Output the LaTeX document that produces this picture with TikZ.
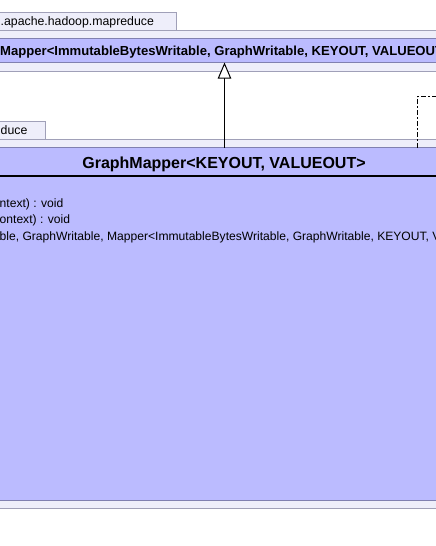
\documentclass[tikz,border=0pt]{standalone}
\usepackage{fontspec}
\setmainfont{Liberation Sans}
\usetikzlibrary{arrows.meta}
\definecolor{pkgfill}{RGB}{238,238,250}
\definecolor{pkgline}{RGB}{160,160,184}
\definecolor{clsfill}{RGB}{187,187,255}
\definecolor{clsline}{RGB}{128,128,176}
\tikzset{
  boxbase/.style={anchor=north west, inner sep=0pt, outer sep=0pt, line width=1pt},
  pkgbox/.style={boxbase, draw=pkgline, fill=pkgfill},
  clsbox/.style={boxbase, draw=clsline, fill=clsfill},
  pkgtext/.style={inner sep=0pt, anchor=base west, font=\fontsize{12.3}{14}\selectfont},
  smalltitle/.style={inner sep=0pt, anchor=base west, font=\fontsize{13.1}{15}\selectfont\bfseries},
  bigtitle/.style={inner sep=0pt, anchor=base, font=\fontsize{16}{19}\selectfont\bfseries},
  methodtext/.style={inner sep=0pt, anchor=base west, font=\fontsize{12.1}{14}\selectfont},
  inherit/.style={line width=1pt, -{Triangle[open, fill=white, length=16pt, width=13.4pt]}},
  realize/.style={line width=1pt, dash pattern=on 5pt off 2pt on 2pt off 2pt}
}
\begin{document}
\begin{tikzpicture}[x=1pt,y=-1pt]
\useasboundingbox (0,0) rectangle (436,546);
\clip (0,0) rectangle (436,546);
% package org.apache.hadoop.mapreduce (top)
\node[pkgbox, minimum width=181pt, minimum height=17.5pt] (tab1) at (-5,12.5) {};
\node[pkgbox, minimum width=455pt, minimum height=41pt] (pkg1) at (-5,30) {};
\node[pkgtext] (tab1text) at (0.5,25.5) {.apache.hadoop.mapreduce};
% class Mapper
\node[clsbox, minimum width=455pt, minimum height=24pt] (mapper) at (-5,38.5) {};
\node[smalltitle] (mappertext) at (0,55.7) {Mapper<ImmutableBytesWritable, GraphWritable, KEYOUT, VALUEOUT>};
% package (bottom)
\node[pkgbox, minimum width=50.7pt, minimum height=18.3pt] (tab2) at (-5,121) {};
\node[pkgbox, minimum width=455pt, minimum height=369pt] (pkg2) at (-5,139.3) {};
\node[pkgtext] (tab2text) at (0.5,134.3) {duce};
% class GraphMapper
\node[clsbox, minimum width=455pt, minimum height=352.6pt] (gm) at (-5,147.7) {};
\coordinate (sepL) at (-5,176);
\coordinate (sepR) at (450,176);
\draw[line width=2pt] (sepL) -- (sepR);
\node[bigtitle] (gmtitle) at (224,168) {GraphMapper<KEYOUT, VALUEOUT>};
\node[methodtext] (m1) at (-0.5,207) {ntext) : void};
\node[methodtext] (m2) at (-0.5,223.5) {ontext) : void};
\node[methodtext] (m3) at (-0.5,240) {ble, GraphWritable, Mapper<ImmutableBytesWritable, GraphWritable, KEYOUT, V};
% generalization arrow
\coordinate (ax) at (224.5,0);
\draw[inherit] (ax |- gm.north) -- (ax |- mapper.south);
% dashed connector leaving to the right
\coordinate (dcorner) at (417.3,96.7);
\coordinate (dend) at (450,96.7);
\draw[realize] (gm.north -| dcorner) -- (dcorner) -- (dend);
\end{tikzpicture}
\end{document}
